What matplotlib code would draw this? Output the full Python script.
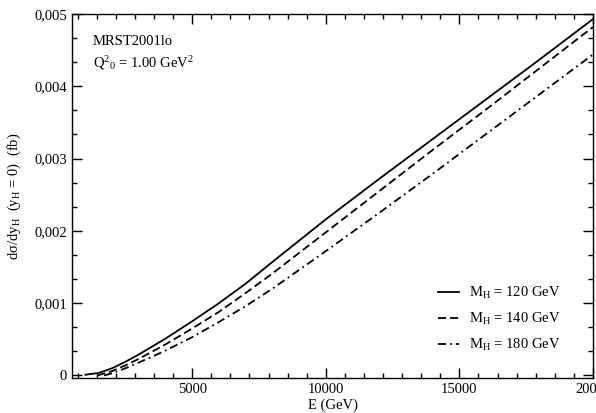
import matplotlib
matplotlib.use("Agg")
from matplotlib import pyplot as plt
from matplotlib.ticker import MultipleLocator, FuncFormatter

plt.rcParams['font.family'] = ['Liberation Serif', 'DejaVu Serif']
plt.rcParams['mathtext.fontset'] = 'custom'
plt.rcParams['mathtext.rm'] = 'Liberation Serif'
plt.rcParams['mathtext.it'] = 'Liberation Serif:italic'
plt.rcParams['font.size'] = 10.5

# energia E (GeV) y dsigma/dy_H en fb
e_120 = [1000, 1500, 2000, 2500, 3000, 3500, 4000, 5000, 6000, 7000, 8000,
         10000, 12000, 14000, 16000, 18000, 20000]
s_120 = [0.00001, 0.000035, 0.00010, 0.00019, 0.00029, 0.00040, 0.00051,
         0.00075, 0.00100, 0.00127, 0.00157, 0.00216, 0.00272, 0.00327,
         0.00382, 0.00437, 0.00493]

e_140 = [1450, 2000, 2500, 3000, 3500, 4000, 5000, 6000, 7000, 8000,
         10000, 12000, 14000, 16000, 18000, 20000]
s_140 = [0.0, 0.00006, 0.00014, 0.00023, 0.00033, 0.00043, 0.00065,
         0.00088, 0.00114, 0.00141, 0.00198, 0.00255, 0.00312, 0.00368,
         0.00425, 0.00482]

e_180 = [1700, 2000, 2500, 3000, 3500, 4000, 5000, 6000, 7000, 8000,
         10000, 12000, 14000, 16000, 18000, 20000]
s_180 = [0.0, 0.00003, 0.00010, 0.00018, 0.00026, 0.000345, 0.00053,
         0.00074, 0.00096, 0.00120, 0.00172, 0.00225, 0.00279, 0.00334,
         0.00389, 0.00444]

labels = [r"M$_\mathrm{H}$ = 120 GeV", r"M$_\mathrm{H}$ = 140 GeV",
          r"M$_\mathrm{H}$ = 180 GeV"]

fig = plt.figure(figsize=(5.96, 4.13), dpi=100)
ax = fig.add_axes([72/596, 1 - 378/413, 521/596, 364/413])

lw = 1.3
ax.plot(e_120, s_120, color='black', lw=lw, label=labels[0])
ax.plot(e_140, s_140, color='black', lw=lw, dashes=(4.5, 2.2), label=labels[1])
ax.plot(e_180, s_180, color='black', lw=lw, dashes=(4.5, 2.2, 1, 2.2),
        label=labels[2])

ax.set_xlim(500, 20000)
ax.set_ylim(-0.000035, 0.005)

ax.xaxis.set_major_locator(MultipleLocator(5000))
ax.xaxis.set_minor_locator(MultipleLocator(5000 / 7))
ax.yaxis.set_major_locator(MultipleLocator(0.001))
ax.yaxis.set_minor_locator(MultipleLocator(0.001 / 3))
ax.yaxis.set_major_formatter(FuncFormatter(
    lambda v, p: '0' if abs(v) < 1e-9 else ('%.3f' % v).replace('.', ',')))
ax.xaxis.set_major_formatter(FuncFormatter(lambda v, p: '%d' % v))

ax.tick_params(which='both', direction='in', top=True, right=True,
               width=1.0, labelsize=10.5)
ax.tick_params(which='major', length=7)
ax.tick_params(which='minor', length=3.5)
for sp in ax.spines.values():
    sp.set_linewidth(1.0)

ax.set_xlabel('E (GeV)', labelpad=2)
ax.set_ylabel(r"dσ/dy$_\mathrm{H}$  (y$_\mathrm{H}$ = 0)  (fb)", labelpad=8)

ax.text(0.04, 0.925, 'MRST2001lo', transform=ax.transAxes, va='center')
ax.text(0.04, 0.865, r"Q$^2{}_0$ = 1.00 GeV$^2$", transform=ax.transAxes,
        va='center')

ax.legend(loc='upper left', bbox_to_anchor=(438/596, 1 - 285/413),
          bbox_transform=fig.transFigure, frameon=False, handlelength=1.45,
          handletextpad=0.7, labelspacing=0.68, borderaxespad=0,
          borderpad=0)

fig.savefig('out.png', dpi=100)
